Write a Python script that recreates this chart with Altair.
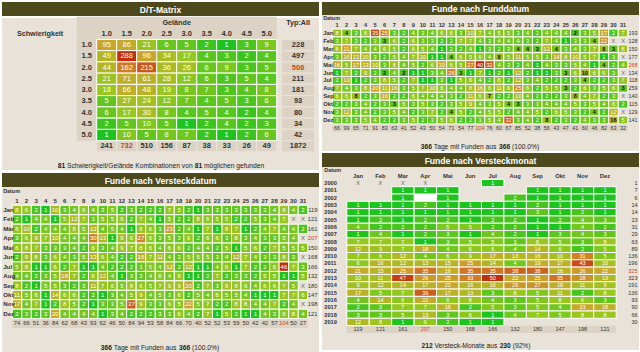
import altair as alt
import pandas as pd

FONT = "Liberation Sans"
W = 317
BG = "#e9e2d8"
BG2 = "#dcd3c5"
OLIVE = "#4e491c"
DARK = "#333333"
RED = "#c8461e"
GREY = "#6a6a6a"
HEAT = ["#1ec41e", "#58c61e", "#96c81e", "#c8a82a", "#d07a26", "#c0300e"]
STOPS = [0, 0.25, 0.5, 0.8, 0.9, 1.0]

# ---------------- D/T matrix ----------------
DT_LEVELS = ["1.0", "1.5", "2.0", "2.5", "3.0", "3.5", "4.0", "4.5", "5.0"]
DT_VALUES = [
    [95, 86, 21, 6, 5, 2, 1, 3, 9],
    [49, 288, 96, 34, 17, 4, 3, 2, 4],
    [44, 162, 215, 36, 26, 6, 9, 3, 5],
    [21, 71, 61, 28, 12, 6, 3, 5, 4],
    [18, 66, 48, 19, 8, 7, 3, 4, 8],
    [5, 27, 24, 12, 7, 4, 5, 3, 6],
    [6, 17, 30, 8, 4, 5, 4, 2, 4],
    [2, 5, 10, 5, 1, 2, 4, 2, 3],
    [1, 10, 5, 8, 7, 2, 1, 2, 6],
]
DT_ROW_TOT = [228, 497, 506, 211, 181, 93, 80, 34, 42]
DT_COL_TOT = [241, 732, 510, 156, 87, 38, 33, 26, 49]
DT_GRAND = 1872

# ---------------- Funde nach Versteckdatum ----------------
MONTHS_L = ["Jan", "Feb", "Mär", "Apr", "Mai", "Jun", "Jul", "Aug", "Sep", "Okt", "Nov", "Dez"]
MONTHS_R = ["Jan", "Feb", "Mar", "Apr", "Mai", "Jun", "Jul", "Aug", "Sep", "Okt", "Nov", "Dez"]
VD_JAN = [8, 6, 2, 1, 10, 3, 4, 6, 4, 3, 5, 2, 3, 2, 2, 2, 7, 5, 2, 1, 3, 3, 3, 3, 3, 3, 3, 4, 8, 4, 2]
VD_FEB = [2, 1, 4, 4, 1, 5, 12, 7, 3, 5, 5, 6, 2, 7, 4, 1, 5, 2, 2, 8, 6, 5, 5, 2, 2, 5, 3, 4, 7]
VD_MAR = [6, 10, 2, 4, 4, 4, 8, 5, 12, 4, 5, 4, 1, 6, 6, 3, 23, 2, 4, 1, 7, 1, 8, 7, 1, 2, 4, 7, 4, 4, 2]
VD_APR = [3, 6, 9, 7, 10, 4, 4, 4, 30, 13, 1, 9, 6, 27, 6, 3, 5, 3, 6, 2, 6, 6, 3, 8, 3, 4, 3, 3, 5, 4]
VD_MAI = [6, 8, 7, 3, 3, 3, 4, 2, 6, 3, 4, 9, 7, 8, 6, 4, 6, 6, 2, 4, 4, 2, 5, 1, 5, 6, 2, 7, 5, 5, 5]
VD_JUN = [2, 9, 8, 3, 6, 4, 3, 5, 13, 6, 4, 2, 2, 16, 7, 11, 4, 3, 5, 5, 5, 3, 4, 12, 7, 4, 3, 3, 8, 3]
VD_JUL = [5, 8, 1, 1, 6, 2, 7, 1, 1, 4, 2, 2, 2, 3, 5, 4, 12, 2, 12, 1, 1, 4, 6, 1, 7, 2, 2, 6, 46, 7, 3]
VD_AUG = [4, 4, 2, 3, 5, 18, 7, 2, 6, 12, 4, 1, 3, 3, 4, 6, 4, 6, 1, 1, 2, 7, 2, 3, 3, 2, 5, 5, 1, 1, 5]
VD_SEP = [8, 2, 1, 5, 5, 3, 2, 3, 11, 7, 6, 5, 8, 6, 5, 7, 9, 9, 20, 2, 7, 3, 9, 8, 6, 4, 6, 6, 7, 5]
VD_OKT = [11, 5, 6, 1, 14, 6, 6, 2, 2, 1, 3, 4, 5, 9, 4, 5, 3, 6, 2, 5, 4, 6, 5, 5, 4, 1, 1, 1, 7, 7, 6]
VD_NOV = [17, 4, 7, 1, 2, 8, 5, 2, 1, 3, 3, 5, 37, 9, 3, 3, 6, 5, 22, 5, 7, 2, 2, 8, 8, 4, 4, 7, 2, 4]
VD_DEZ = [2, 3, 2, 3, 20, 4, 4, 4, 4, 1, 3, 4, 2, 2, 2, 3, 3, 6, 4, 2, 7, 1, 5, 2, 1, 1, 4, 3, 6, 8, 4]
VD_VALUES = [VD_JAN, VD_FEB, VD_MAR, VD_APR, VD_MAI, VD_JUN, VD_JUL, VD_AUG, VD_SEP, VD_OKT, VD_NOV, VD_DEZ]
VD_COL_TOT = [74, 66, 51, 36, 84, 62, 68, 43, 93, 62, 46, 50, 84, 94, 53, 58, 84, 66, 70, 40, 52, 52, 53, 59,
              50, 42, 42, 57, 104, 50, 27]
VD_ROW_TOT = [119, 121, 161, 207, 150, 168, 166, 132, 180, 147, 198, 121]

# ---------------- Funde nach Funddatum ----------------
FD_JAN = [8, 4, 3, 6, 35, 25, 3, 2, 4, 3, 4, 6, 6, 3, 10, 7, 4, 5, 5, 3, 4, 2, 4, 4, 4, 2, 3, 5, 17, 2, 7]
FD_FEB = [3, 7, 3, 2, 3, 3, 6, 2, 6, 3, 3, 2, 2, 7, 7, 4, 3, 4, 4, 4, 3, 2, 7, 4, 1, 3, 3, 4, 22]
FD_MAR = [8, 21, 7, 4, 4, 6, 5, 2, 6, 5, 4, 1, 2, 2, 4, 1, 3, 2, 3, 4, 4, 3, 12, 4, 3, 4, 3, 7, 8, 3, 8]
FD_APR = [3, 16, 13, 10, 3, 2, 5, 4, 7, 10, 1, 1, 4, 6, 5, 6, 4, 8, 5, 11, 5, 5, 3, 14, 8, 10, 5, 7, 1, 3]
FD_MAI = [16, 5, 17, 13, 10, 3, 8, 4, 5, 2, 6, 19, 6, 5, 27, 40, 32, 4, 3, 2, 4, 1, 4, 3, 3, 5, 4, 1, 4, 2, 4]
FD_JUN = [1, 7, 2, 9, 2, 2, 4, 2, 1, 1, 3, 4, 26, 3, 1, 7, 1, 2, 1, 12, 2, 1, 1, 3, 3, 6, 10, 6, 6, 3]
FD_JUL = [2, 13, 1, 2, 3, 8, 5, 2, 7, 1, 1, 3, 1, 5, 6, 4, 2, 6, 2, 12, 3, 4, 2, 2, 2, 3, 4, 2, 2, 3, 7]
FD_AUG = [7, 4, 3, 8, 20, 11, 16, 3, 5, 7, 10, 6, 4, 4, 8, 16, 6, 11, 6, 25, 6, 2, 5, 5, 3, 2, 6, 3, 5, 6, 3]
FD_SEP = [6, 6, 8, 2, 3, 16, 2, 2, 6, 4, 4, 4, 3, 2, 11, 6, 7, 2, 2, 10, 4, 2, 2, 2, 3, 8, 4, 7, 2, 3]
FD_OKT = [2, 2, 3, 4, 2, 3, 3, 5, 3, 5, 3, 2, 3, 5, 9, 4, 3, 5, 4, 3, 3, 3, 4, 4, 4, 5, 3, 5, 4, 6, 2]
FD_NOV = [3, 12, 3, 4, 2, 3, 5, 4, 2, 3, 7, 2, 4, 5, 2, 4, 5, 5, 2, 4, 4, 5, 2, 6, 5, 3, 2, 4, 2, 12]
FD_DEZ = [3, 3, 3, 5, 4, 2, 2, 3, 5, 2, 3, 5, 6, 2, 2, 3, 5, 4, 32, 3, 4, 2, 8, 2, 3, 2, 4, 3, 3, 16, 5]
FD_VALUES = [FD_JAN, FD_FEB, FD_MAR, FD_APR, FD_MAI, FD_JUN, FD_JUL, FD_AUG, FD_SEP, FD_OKT, FD_NOV, FD_DEZ]
FD_COL_TOT = [66, 99, 65, 71, 91, 83, 63, 41, 52, 43, 50, 54, 71, 54, 77, 104, 76, 60, 67, 85, 52, 38, 56, 43,
              47, 41, 60, 46, 82, 63, 32]
FD_ROW_TOT = [193, 128, 150, 177, 268, 134, 118, 259, 140, 115, 129, 141]
# (month, day) cells whose number is printed in bold black
FD_BOLD = [(1, 2), (1, 26), (2, 6), (2, 28), (3, 20), (3, 21), (3, 22), (3, 24), (3, 29), (3, 30),
           (4, 13), (4, 18), (5, 29), (6, 6), (6, 8), (6, 14), (6, 25), (6, 27), (7, 27), (8, 25), (8, 31),
           (9, 3), (9, 17), (9, 26), (10, 7), (10, 19), (10, 20), (11, 13), (11, 28), (12, 23), (12, 30)]

# ---------------- Funde nach Versteckmonat ----------------
VM_YEARS = [str(y) for y in range(2000, 2020)]
VM_VALUES = [
    ["X", "X", "X", "X", None, None, 1, None, None, None, None, None],
    [None, None, 1, 1, 1, None, None, None, 1, 1, 1, 1],
    [None, None, 1, "W", 1, None, None, 2, 1, 1, 1, 1],
    [1, 1, 1, 2, 1, 1, 1, 1, 2, 1, 1, 1],
    [1, 1, 1, 1, 1, 1, 1, 1, 3, 1, 2, 1],
    [1, 2, 1, 2, 2, 1, 2, 2, 1, 2, 4, 3],
    [4, 2, 2, 2, 5, 5, 2, 2, 1, 1, 4, 2],
    [1, 4, 1, 2, 3, 1, 4, 2, 1, 3, 4, 3],
    [7, 7, 7, 1, 3, 5, 5, 3, 8, 5, 3, 8],
    [12, 9, 7, 18, 4, 6, 6, 4, 14, 6, 2, 5],
    [7, 6, 12, 4, 6, 9, 17, 13, 16, 10, 31, 5],
    [6, 16, 12, 13, 15, 25, 14, 4, 19, 17, 43, 10],
    [21, 15, 25, 35, 19, 35, 35, 38, 38, 16, 26, 22],
    [10, 11, 47, 26, 25, 33, 50, 22, 25, 35, 28, 13],
    [9, 12, 14, 17, 22, 16, 16, 26, 27, 18, 11, 9],
    [17, 5, 7, 39, 17, 13, 3, 8, 5, 11, 2, 8],
    [4, 14, 6, 22, 6, 8, 4, 3, 5, 8, 6, 3],
    [2, 3, 7, 7, 16, 2, 5, 3, 5, 4, 23, 18],
    [3, 3, 5, 13, 3, 6, 1, 4, 7, 5, 8, 8],
    [12, 8, 1, 6, 2, 1, 1, None, None, None, None, None],
]
VM_ROW_TOT = [1, 7, 6, 14, 14, 23, 31, 29, 63, 89, 136, 196, 325, 323, 191, 136, 93, 90, 66, 30]
VM_COL_TOT = [119, 121, 161, 207, 150, 168, 166, 132, 180, 147, 198, 121]

# ---------------- helpers ----------------
AW = {" ": 278, "(": 333, ")": 333, ".": 278, "%": 889, "/": 278, "-": 333, ":": 278}
for _ch in "0123456789":
    AW[_ch] = 556
AW.update(dict(A=667, B=667, C=722, D=722, E=667, F=611, G=778, H=722, I=278, J=500, K=667, L=556, M=833,
               N=722, O=778, P=667, Q=778, R=722, S=667, T=611, U=722, V=667, W=944, X=667, Y=667, Z=611))
AW.update(dict(a=556, b=556, c=500, d=556, e=556, f=278, g=556, h=556, i=222, j=222, k=500, l=222, m=833,
               n=556, o=556, p=556, q=556, r=333, s=500, t=278, u=556, v=500, w=722, x=500, y=500, z=500))
AW.update({"ä": 556, "ö": 556, "ü": 556})


def tw(s, size):
    return sum(AW.get(ch, 556) for ch in s) / 1000.0 * size


def sx(lo, hi):
    return alt.Scale(domain=[lo, hi], nice=False, zero=False)


def sy(lo, hi):
    return alt.Scale(domain=[lo, hi], nice=False, zero=False, reverse=True)


def heat_color(vmax):
    dom = [round(vmax ** t, 4) for t in STOPS]
    return alt.Color("v:Q", scale=alt.Scale(type="log", domain=dom, range=HEAT, interpolate="rgb"), legend=None)


def rect_layer(df, X, Y, hw=0.5, hh=0.5, fill=None, color=None, stroke="#ffffff", sw=1.0):
    base = alt.Chart(df).transform_calculate(
        x0=f"datum.c - {hw}", x1=f"datum.c + {hw}",
        y0=f"datum.r - {hh}", y1=f"datum.r + {hh}")
    mk = dict(stroke=stroke, strokeWidth=sw)
    if fill is not None:
        mk["fill"] = fill
    enc = dict(x=alt.X("x0:Q", scale=X, axis=None), x2="x1:Q",
               y=alt.Y("y0:Q", scale=Y, axis=None), y2="y1:Q")
    if color is not None:
        enc["color"] = color
    return base.mark_rect(**mk).encode(**enc)


def text_layer(df, X, Y, size, color, weight="normal", align="center", xval=None):
    mk = dict(font=FONT, fontSize=size, fontWeight=weight, color=color, align=align, baseline="middle")
    enc = dict(y=alt.Y("r:Q", scale=Y, axis=None), text="t:N")
    enc["x"] = alt.value(xval) if xval is not None else alt.X("c:Q", scale=X, axis=None)
    return alt.Chart(df).mark_text(**mk).encode(**enc)


def footer_layers(segs, cx, y, size):
    space = tw(" ", size)
    widths = [tw(s, size) for s, _ in segs]
    total = sum(widths) + space * (len(segs) - 1)
    x = cx - total / 2
    out = []
    for (s, b), w in zip(segs, widths):
        out.append(alt.Chart(pd.DataFrame({"t": [s]})).mark_text(
            font=FONT, fontSize=size, fontWeight="bold" if b else "normal", color="#222222",
            align="left", baseline="middle").encode(x=alt.value(round(x, 2)), y=alt.value(y), text="t:N"))
        x += w + space
    return out


def header(title, h):
    return alt.Chart(pd.DataFrame({"t": [title]})).mark_text(
        font=FONT, fontSize=8.6, fontWeight="bold", color="white", baseline="middle", align="center"
    ).encode(x=alt.value(W / 2), y=alt.value(h / 2 + 0.5), text="t:N").properties(
        width=W, height=h, view=alt.ViewBackground(fill=OLIVE, strokeWidth=0))


def panel(title, hh, layers, bh):
    body = alt.layer(*layers).properties(width=W, height=bh, view=alt.ViewBackground(fill=BG, strokeWidth=0))
    return alt.vconcat(header(title, hh), body, spacing=0).resolve_scale(color="independent")


def totals_frames(vals, c_of, r_of):
    mx = max(vals)
    rows = [{"c": c_of(i), "r": r_of(i), "t": str(v), "red": v == mx} for i, v in enumerate(vals)]
    df = pd.DataFrame(rows)
    return df[~df.red], df[df.red]


# ---------------- D/T panel ----------------
dX, dY = sx(-4.235, 11.615), sy(-1.4, 12.11)
TOTC = 10.57
dt_cells = pd.DataFrame([{"c": j + 1, "r": i + 1, "v": v, "t": str(v)}
                         for i, row in enumerate(DT_VALUES) for j, v in enumerate(row)])
dt_collab = pd.DataFrame([{"c": j + 1, "r": 0, "t": s} for j, s in enumerate(DT_LEVELS)])
dt_rowlab = pd.DataFrame([{"c": 0, "r": i + 1, "t": s} for i, s in enumerate(DT_LEVELS)])
dt_rt_n, dt_rt_r = totals_frames(DT_ROW_TOT, lambda i: TOTC, lambda i: i + 1)
dt_ct_n, dt_ct_r = totals_frames(DT_COL_TOT, lambda i: i + 1, lambda i: 10)
dt_grand = pd.DataFrame([{"c": TOTC, "r": 10, "t": str(DT_GRAND)}])
dt_layers = [
    rect_layer(pd.DataFrame([{"c": 4.5, "r": -0.5}]), dX, dY, hw=5, hh=1, fill=BG2, sw=0),
    rect_layer(pd.DataFrame([{"c": 0, "r": 5}]), dX, dY, hw=0.5, hh=4.5, fill=BG2, sw=0),
    rect_layer(pd.concat([dt_rt_n, dt_rt_r, dt_grand]), dX, dY, hw=0.83, hh=0.5, fill=BG2, stroke=BG, sw=1.2),
    rect_layer(pd.concat([dt_ct_n, dt_ct_r]), dX, dY, hw=0.5, hh=0.5, fill=BG2, stroke=BG, sw=1.2),
    rect_layer(dt_cells, dX, dY, color=heat_color(max(max(r) for r in DT_VALUES))),
    text_layer(dt_cells, dX, dY, 7.5, "white"),
    text_layer(dt_collab, dX, dY, 7.5, DARK, "bold"),
    text_layer(dt_rowlab, dX, dY, 7.5, DARK, "bold"),
    text_layer(pd.DataFrame([{"c": 4.5, "r": -1, "t": "Gelände"}, {"c": TOTC, "r": -1, "t": "Typ:All"},
                             {"c": -2.33, "r": 0, "t": "Schwierigkeit"}]), dX, dY, 7.2, DARK, "bold"),
    text_layer(pd.concat([dt_rt_n, dt_ct_n, dt_grand]), dX, dY, 7.5, DARK, "bold"),
    text_layer(pd.concat([dt_rt_r, dt_ct_r]), dX, dY, 7.5, RED, "bold"),
] + footer_layers([("81", True), ("Schwierigkeit/Gelände Kombinationen von", False), ("81", True),
                   ("möglichen gefunden", False)], 159, 148, 6.7)
dt_panel = panel("D/T-Matrix", 14, dt_layers, 152)


# ---------------- day x month panels ----------------
def day_month_layers(values, months, col_tot, row_tot, X, Y, fsize, footer_y, datum_r, bold=None):
    cells, xs = [], []
    for mi, row in enumerate(values):
        for d in range(1, 32):
            if d <= len(row):
                cells.append({"c": d, "r": mi + 1, "v": row[d - 1], "t": str(row[d - 1]),
                              "b": bool(bold) and (mi + 1, d) in bold})
            else:
                xs.append({"c": d, "r": mi + 1, "t": "X"})
    cdf = pd.DataFrame(cells)
    xdf = pd.DataFrame(xs)
    vmax = max(max(r) for r in values)
    mlab = pd.DataFrame([{"c": -0.45, "r": i + 1, "t": m} for i, m in enumerate(months)])
    dlab = pd.DataFrame([{"c": d, "r": 0, "t": str(d)} for d in range(1, 32)])
    ct_n, ct_r = totals_frames(col_tot, lambda i: i + 1, lambda i: 13)
    rt_n, rt_r = totals_frames(row_tot, lambda i: 0, lambda i: i + 1)
    layers = [
        rect_layer(pd.DataFrame([{"c": 16, "r": 13}]), X, Y, hw=15.5, hh=0.5, fill=BG2, sw=0),
        rect_layer(cdf, X, Y, color=heat_color(vmax)),
        text_layer(cdf[~cdf.b], X, Y, fsize, "white"),
    ]
    if cdf.b.any():
        layers.append(text_layer(cdf[cdf.b], X, Y, fsize, "#111111", "bold"))
    layers += [
        text_layer(xdf, X, Y, fsize, GREY),
        text_layer(mlab, X, Y, fsize + 0.2, DARK, "bold", align="left"),
        text_layer(dlab, X, Y, fsize, DARK, "bold"),
        text_layer(pd.DataFrame([{"c": -0.45, "r": datum_r, "t": "Datum"}]), X, Y, 5.4, DARK, "bold",
                   align="left"),
        text_layer(ct_n, X, Y, fsize - 0.2, DARK),
        text_layer(ct_r, X, Y, fsize - 0.2, RED),
        text_layer(rt_n, X, Y, fsize - 0.2, DARK, align="right", xval=W - 1.5),
        text_layer(rt_r, X, Y, fsize - 0.2, RED, align="right", xval=W - 1.5),
    ]
    layers += footer_layers([("366", True), ("Tage mit Funden aus", False), ("366", True), ("(100.0%)", False)],
                            158, footer_y, 6.7)
    return layers


vd_layers = day_month_layers(VD_VALUES, MONTHS_L, VD_COL_TOT, VD_ROW_TOT,
                             sx(-0.5735, 32.68), sy(-1.434, 16.03), 6.0, 161.3, -1)
vd_panel = panel("Funde nach Versteckdatum", 14, vd_layers, 165)

fd_layers = day_month_layers(FD_VALUES, MONTHS_R, FD_COL_TOT, FD_ROW_TOT,
                             sx(-0.5735, 32.68), sy(-1.276, 15.92), 5.6, 132, -0.88, bold=set(FD_BOLD))
fd_panel = panel("Funde nach Funddatum", 13, fd_layers, 136)

# ---------------- year x month panel ----------------
mX, mY = sx(-0.6036, 13.517), sy(-1.187, 23.83)
vm_cells, vm_x, vm_white = [], [], []
for yi, row in enumerate(VM_VALUES):
    for mi, v in enumerate(row):
        if v == "X":
            vm_x.append({"c": mi + 1, "r": yi + 1, "t": "X"})
        elif v == "W":
            vm_white.append({"c": mi + 1, "r": yi + 1})
        elif v is not None:
            vm_cells.append({"c": mi + 1, "r": yi + 1, "v": v, "t": str(v)})
vm_cdf = pd.DataFrame(vm_cells)
vm_max = max(vm_cdf.v)
vm_ylab = pd.DataFrame([{"c": -0.5, "r": i + 1, "t": y} for i, y in enumerate(VM_YEARS)])
vm_mlab = pd.DataFrame([{"c": i + 1, "r": 0, "t": m} for i, m in enumerate(MONTHS_R)])
vm_ct_n, vm_ct_r = totals_frames(VM_COL_TOT, lambda i: i + 1, lambda i: 21)
vm_rt_n, vm_rt_r = totals_frames(VM_ROW_TOT, lambda i: 0, lambda i: i + 1)
vm_layers = [
    rect_layer(pd.DataFrame([{"c": 6.5, "r": 21}]), mX, mY, hw=6, hh=0.5, fill=BG2, sw=0),
    rect_layer(pd.DataFrame(vm_white), mX, mY, fill="#ffffff", stroke=BG, sw=1),
    rect_layer(vm_cdf, mX, mY, color=heat_color(vm_max)),
    text_layer(vm_cdf, mX, mY, 5.5, "white"),
    text_layer(pd.DataFrame(vm_x), mX, mY, 5.5, GREY),
    text_layer(vm_ylab, mX, mY, 5.6, DARK, "bold", align="left"),
    text_layer(vm_mlab, mX, mY, 5.8, DARK, "bold"),
    text_layer(pd.DataFrame([{"c": -0.5, "r": -0.8, "t": "Datum"}]), mX, mY, 5.4, DARK, "bold", align="left"),
    text_layer(vm_ct_n, mX, mY, 5.5, DARK),
    text_layer(vm_ct_r, mX, mY, 5.5, RED),
    text_layer(vm_rt_n, mX, mY, 5.5, DARK, align="right", xval=W - 1.5),
    text_layer(vm_rt_r, mX, mY, 5.5, RED, align="right", xval=W - 1.5),
] + footer_layers([("212", True), ("Versteck-Monate aus", False), ("230", True), ("(92%)", False)],
                  154, 179, 6.7)
vm_panel = panel("Funde nach Versteckmonat", 14, vm_layers, 183)

left = alt.vconcat(dt_panel, vd_panel, spacing=3).resolve_scale(color="independent")
right = alt.vconcat(fd_panel, vm_panel, spacing=2).resolve_scale(color="independent")
chart = alt.hconcat(left, right, spacing=3).resolve_scale(color="independent").properties(
    padding={"left": 2, "top": 2, "right": 0, "bottom": 0}, background="white"
).configure_view(strokeWidth=0)

chart.save("out.html", embed_options={"renderer": "svg", "actions": False})
